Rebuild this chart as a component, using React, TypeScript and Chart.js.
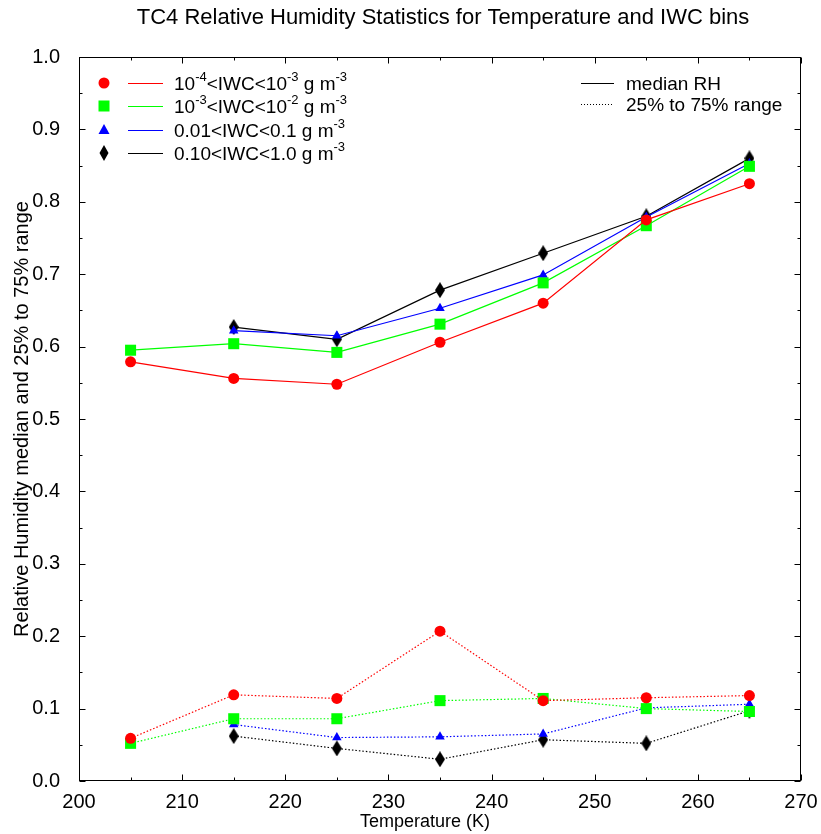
import React, { useEffect, useRef } from 'react';
import { Chart, registerables } from 'chart.js';

Chart.register(...registerables);

const temperatures = [205, 215, 225, 235, 245, 255, 265];

const medianBin1 = [0.579, 0.556, 0.548, 0.606, 0.660, 0.775, 0.825];
const medianBin2 = [0.595, 0.604, 0.592, 0.631, 0.688, 0.767, 0.849];
const medianBin3 = [null, 0.622, 0.615, 0.653, 0.699, 0.779, 0.853];
const medianBin4 = [null, 0.627, 0.610, 0.678, 0.729, 0.780, 0.860];

const q25Bin1 = [0.059, 0.119, 0.114, 0.207, 0.111, 0.115, 0.118];
const q25Bin2 = [0.052, 0.086, 0.086, 0.111, 0.114, 0.100, 0.096];
const q25Bin3 = [null, 0.078, 0.060, 0.061, 0.065, 0.101, 0.106];
const q25Bin4 = [null, 0.062, 0.045, 0.030, 0.057, 0.052, 0.097];

const xTickValues = [200, 210, 220, 230, 240, 250, 260, 270];
const yTickValues = [0, 0.1, 0.2, 0.3, 0.4, 0.5, 0.6, 0.7, 0.8, 0.9, 1.0];

const seriesColors = ['#ff0000', '#00ff00', '#0000ff', '#000000'];
const seriesLabels = [
  [{ t: '10' }, { t: '-4', sup: true }, { t: '<IWC<10' }, { t: '-3', sup: true }, { t: ' g m' }, { t: '-3', sup: true }],
  [{ t: '10' }, { t: '-3', sup: true }, { t: '<IWC<10' }, { t: '-2', sup: true }, { t: ' g m' }, { t: '-3', sup: true }],
  [{ t: '0.01<IWC<0.1 g m' }, { t: '-3', sup: true }],
  [{ t: '0.10<IWC<1.0 g m' }, { t: '-3', sup: true }],
];
const titleText = 'TC4 Relative Humidity Statistics for Temperature and IWC bins';
const xTitle = 'Temperature (K)';
const yTitle = 'Relative Humidity median and 25% to 75% range';
const styleLegend = ['median RH', '25% to 75% range'];

const FONT = '"Liberation Sans", Arial, sans-serif';

function makeDiamond(): HTMLCanvasElement {
  const c = document.createElement('canvas');
  c.width = 10;
  c.height = 16;
  const g = c.getContext('2d')!;
  g.fillStyle = '#000';
  g.beginPath();
  g.moveTo(5, 0);
  g.lineTo(10, 8);
  g.lineTo(5, 16);
  g.lineTo(0, 8);
  g.closePath();
  g.fill();
  return c;
}

function drawMarker(ctx: CanvasRenderingContext2D, i: number, x: number, y: number) {
  ctx.save();
  ctx.fillStyle = seriesColors[i];
  ctx.beginPath();
  if (i === 0) {
    ctx.arc(x, y, 5.5, 0, Math.PI * 2);
  } else if (i === 1) {
    ctx.rect(x - 5.5, y - 5.5, 11, 11);
  } else if (i === 2) {
    ctx.moveTo(x, y - 6);
    ctx.lineTo(x + 5.5, y + 4);
    ctx.lineTo(x - 5.5, y + 4);
    ctx.closePath();
  } else {
    ctx.moveTo(x, y - 8);
    ctx.lineTo(x + 4.5, y);
    ctx.lineTo(x, y + 8);
    ctx.lineTo(x - 4.5, y);
    ctx.closePath();
  }
  ctx.fill();
  ctx.restore();
}

function drawRich(ctx: CanvasRenderingContext2D, parts: { t: string; sup?: boolean }[], x: number, y: number) {
  let cx = x;
  for (const p of parts) {
    if (p.sup) {
      ctx.font = `13px ${FONT}`;
      ctx.fillText(p.t, cx, y - 9);
    } else {
      ctx.font = `19px ${FONT}`;
      ctx.fillText(p.t, cx, y);
    }
    cx += ctx.measureText(p.t).width;
  }
}

const decorPlugin = {
  id: 'decor',
  afterDraw(chart: any) {
    const { ctx, chartArea: a, scales } = chart;
    const xs = scales.x;
    const ys = scales.y;
    ctx.save();
    ctx.strokeStyle = '#000';
    ctx.lineWidth = 1;
    ctx.strokeRect(Math.round(a.left) + 0.5, Math.round(a.top) + 0.5, Math.round(a.right - a.left) - 1, Math.round(a.bottom - a.top) - 1);
    ctx.beginPath();
    const L = Math.round(a.left) + 0.5, R = Math.round(a.right) - 0.5;
    const T = Math.round(a.top) + 0.5, B = Math.round(a.bottom) - 0.5;
    for (let i = 0; i < xTickValues.length; i++) {
      const v = xTickValues[i];
      const px = Math.round(xs.getPixelForValue(v)) + 0.5;
      ctx.moveTo(px, B); ctx.lineTo(px, B - 6);
      ctx.moveTo(px, T); ctx.lineTo(px, T + 6);
      if (i < xTickValues.length - 1) {
        const m = Math.round(xs.getPixelForValue((v + xTickValues[i + 1]) / 2)) + 0.5;
        ctx.moveTo(m, B); ctx.lineTo(m, B - 3);
        ctx.moveTo(m, T); ctx.lineTo(m, T + 3);
      }
    }
    for (let i = 0; i < yTickValues.length; i++) {
      const v = yTickValues[i];
      const py = Math.round(ys.getPixelForValue(v)) + 0.5;
      ctx.moveTo(L, py); ctx.lineTo(L + 6, py);
      ctx.moveTo(R, py); ctx.lineTo(R - 6, py);
      if (i < yTickValues.length - 1) {
        const m = Math.round(ys.getPixelForValue((v + yTickValues[i + 1]) / 2)) + 0.5;
        ctx.moveTo(L, m); ctx.lineTo(L + 3, m);
        ctx.moveTo(R, m); ctx.lineTo(R - 3, m);
      }
    }
    ctx.stroke();

    // titles
    ctx.fillStyle = '#000';
    ctx.textAlign = 'center';
    ctx.textBaseline = 'middle';
    ctx.font = `22px ${FONT}`;
    ctx.fillText(titleText, 443, 18);
    ctx.font = `18px ${FONT}`;
    ctx.fillText(xTitle, 425, 822);
    ctx.save();
    ctx.font = `20px ${FONT}`;
    ctx.translate(22, 419);
    ctx.rotate(-Math.PI / 2);
    ctx.fillText(yTitle, 0, 0);
    ctx.restore();

    // series legend
    ctx.textAlign = 'left';
    ctx.textBaseline = 'alphabetic';
    const rows = [83, 106, 130, 153];
    for (let i = 0; i < 4; i++) {
      const ry = rows[i];
      drawMarker(ctx, i, 104, ry);
      ctx.strokeStyle = seriesColors[i];
      ctx.lineWidth = 1.2;
      ctx.beginPath();
      ctx.moveTo(128, ry + 0.5);
      ctx.lineTo(163, ry + 0.5);
      ctx.stroke();
      ctx.fillStyle = '#000';
      drawRich(ctx, seriesLabels[i], 174, ry + 7);
    }

    // line-style legend
    ctx.strokeStyle = '#000';
    ctx.lineWidth = 1;
    ctx.beginPath();
    ctx.moveTo(581, 83.5); ctx.lineTo(614, 83.5);
    ctx.stroke();
    ctx.setLineDash([1, 2]);
    ctx.beginPath();
    ctx.moveTo(581, 104.5); ctx.lineTo(614, 104.5);
    ctx.stroke();
    ctx.setLineDash([]);
    ctx.font = `19px ${FONT}`;
    ctx.fillStyle = '#000';
    ctx.fillText(styleLegend[0], 626, 90);
    ctx.fillText(styleLegend[1], 626, 111);
    ctx.restore();
  },
};

export default function App() {
  const ref = useRef<HTMLCanvasElement | null>(null);
  useEffect(() => {
    document.body.style.margin = '0';
    const diamond = makeDiamond();
    const styles: any[] = ['circle', 'rect', 'triangle', diamond];
    const radii = [5.5, 7.8, 5.5, 6];
    const medians = [medianBin1, medianBin2, medianBin3, medianBin4];
    const quartiles = [q25Bin1, q25Bin2, q25Bin3, q25Bin4];
    const datasets: any[] = [];
    for (let i = 0; i < 4; i++) {
      datasets.push({
        label: 'median ' + i,
        data: temperatures.map((t, k) => ({ x: t, y: medians[i][k] })),
        borderColor: seriesColors[i],
        backgroundColor: seriesColors[i],
        borderWidth: 1.2,
        pointStyle: styles[i],
        pointRadius: radii[i],
        pointBorderWidth: 0,
        spanGaps: false,
      });
      datasets.push({
        label: 'q25 ' + i,
        data: temperatures.map((t, k) => ({ x: t, y: quartiles[i][k] })),
        borderColor: seriesColors[i],
        backgroundColor: seriesColors[i],
        borderWidth: 1.2,
        borderDash: [1.5, 2],
        pointStyle: styles[i],
        pointRadius: radii[i],
        pointBorderWidth: 0,
        spanGaps: false,
      });
    }
    const chart = new Chart(ref.current!, {
      type: 'line',
      data: { datasets },
      options: {
        animation: false,
        responsive: false,
        maintainAspectRatio: false,
        layout: { padding: { top: 57, right: 20, left: 0, bottom: 0 } },
        plugins: { legend: { display: false }, tooltip: { enabled: false }, title: { display: false } },
        scales: {
          x: {
            type: 'linear',
            min: 200,
            max: 270,
            grid: { display: false },
            border: { display: false },
            ticks: {
              color: '#000',
              font: { family: FONT, size: 20 },
              padding: 1,
              maxRotation: 0,
              autoSkip: false,
              callback: (v: any) => String(v),
            },
            afterBuildTicks: (s: any) => {
              s.ticks = xTickValues.map((v) => ({ value: v }));
            },
            afterFit: (s: any) => {
              s.height = 53;
            },
          },
          y: {
            type: 'linear',
            min: 0,
            max: 1,
            grid: { display: false },
            border: { display: false },
            ticks: {
              color: '#000',
              font: { family: FONT, size: 20 },
              padding: 11,
              autoSkip: false,
              callback: (v: any) => Number(v).toFixed(1),
            },
            afterBuildTicks: (s: any) => {
              s.ticks = yTickValues.map((v) => ({ value: v }));
            },
            afterFit: (s: any) => {
              s.width = 79;
            },
          },
        },
      },
      plugins: [decorPlugin],
    });
    return () => chart.destroy();
  }, []);
  return (
    <div style={{ position: 'absolute', left: 0, top: 0, width: 821, height: 834 }}>
      <canvas ref={ref} width={821} height={834} style={{ width: 821, height: 834 }} />
    </div>
  );
}
